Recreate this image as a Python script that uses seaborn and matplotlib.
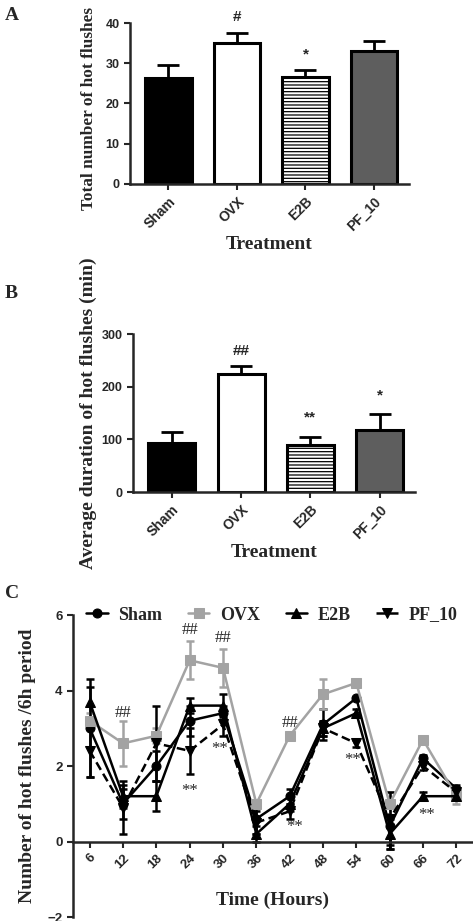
import matplotlib
matplotlib.use('Agg')
import matplotlib.pyplot as plt
import seaborn as sns
import pandas as pd

# ---- data ----
groups = ['Sham', 'OVX', 'E2B', 'PF_10']
total_mean = [26.3, 35.0, 26.5, 33.0]
total_err = [3.2, 2.5, 1.8, 2.6]
dur_mean = [93, 225, 90, 118]
dur_err = [21, 15, 15, 30]

times = [6, 12, 18, 24, 30, 36, 42, 48, 54, 60, 66, 72]
sham = [3.0, 1.0, 2.0, 3.2, 3.4, 0.6, 1.2, 3.1, 3.8, 0.4, 2.2, 1.4]
sham_err = [1.3, 0.4, 0.4, 0.4, 0.2, 0.4, 0.2, 0.4, 0.0, 0.6, 0.1, 0.1]
ovx = [3.2, 2.6, 2.8, 4.8, 4.6, 1.0, 2.8, 3.9, 4.2, 1.0, 2.7, 1.2]
ovx_err = [0.2, 0.6, 0.2, 0.5, 0.5, 0.1, 0.1, 0.4, 0.1, 0.3, 0.1, 0.2]
e2b = [3.7, 1.2, 1.2, 3.6, 3.6, 0.2, 1.0, 3.0, 3.4, 0.2, 1.2, 1.2]
e2b_err = [0.4, 0.3, 0.4, 0.2, 0.3, 0.2, 0.2, 0.2, 0.1, 0.4, 0.1, 0.1]
pf10 = [2.4, 0.9, 2.6, 2.4, 3.1, 0.5, 0.8, 3.0, 2.6, 0.6, 2.0, 1.3]
pf10_err = [0.7, 0.7, 1.0, 0.6, 0.3, 0.3, 0.2, 0.2, 0.1, 0.7, 0.1, 0.1]

sns.set_style('ticks')
plt.rcParams['font.family'] = ['Liberation Serif', 'DejaVu Serif']
plt.rcParams['hatch.linewidth'] = 0.9
plt.rcParams['hatch.color'] = 'black'

SANS = ['Liberation Sans', 'DejaVu Sans']
SERIF = ['Liberation Serif', 'DejaVu Serif']
W, H = 473, 921

fig = plt.figure(figsize=(4.73, 9.21), dpi=100)


def px_axes(l, t, r, b):
    return fig.add_axes([l / W, 1 - b / H, (r - l) / W, (b - t) / H])


def style_axes(ax):
    sns.despine(ax=ax)
    for s in ['left', 'bottom']:
        ax.spines[s].set_linewidth(1.8)
    ax.tick_params(width=1.5, length=4, direction='out')
    for lab in ax.get_yticklabels() + ax.get_xticklabels():
        lab.set_family(SANS)
        lab.set_weight('bold')


def bar_panel(ax, means, errs, ylabel, ymax, yticks, label_x, label_y, label_size):
    df = pd.DataFrame({'Treatment': groups, 'value': means})
    sns.barplot(data=df, x='Treatment', y='value', hue='Treatment', legend=False,
                palette=['black', 'white', 'white', '#5e5e5e'], width=0.68,
                edgecolor='black', linewidth=2.2, ax=ax)
    ax.patches[2].set_hatch('-----')
    ax.errorbar(range(4), means, yerr=[[0] * 4, errs], fmt='none', ecolor='black',
                elinewidth=2, capsize=8, capthick=2, zorder=1)
    ax.set_ylim(0, ymax)
    ax.set_yticks(yticks)
    ax.set_xlim(-0.56, 3.51)
    ax.set_xlabel('Treatment', fontsize=14, weight='bold', family=SERIF, labelpad=2)
    ax.set_ylabel(ylabel, fontsize=label_size, weight='bold', family=SERIF)
    ax.yaxis.set_label_coords(label_x, label_y)
    ax.tick_params(axis='y', labelsize=9)
    ax.tick_params(axis='x', labelsize=10)
    plt.setp(ax.get_xticklabels(), rotation=45, ha='right', rotation_mode='anchor')
    style_axes(ax)


# ---- A ----
axA = px_axes(130, 23, 409, 184)
bar_panel(axA, total_mean, total_err, 'Total number of hot flushes', 40,
          [0, 10, 20, 30, 40], -0.118, 0.47, 12.4)
axA.text(1, 41.5, '#', ha='center', va='center', fontsize=11, weight='bold', family=SANS)
axA.text(2, 32.3, '*', ha='center', va='center', fontsize=11, weight='bold', family=SANS)

# ---- B ----
axB = px_axes(133, 334, 415, 492)
bar_panel(axB, dur_mean, dur_err, 'Average duration of hot flushes (min)', 300,
          [0, 100, 200, 300], -0.128, 0.5, 14)
axB.text(1, 268, '##', ha='center', va='center', fontsize=11, weight='bold', family=SANS)
axB.text(2, 142, '**', ha='center', va='center', fontsize=11, weight='bold', family=SANS)
axB.text(3, 184, '*', ha='center', va='center', fontsize=11, weight='bold', family=SANS)

# ---- C ----
axC = px_axes(73, 615, 473, 917)
series = {'Sham': (sham, sham_err), 'OVX': (ovx, ovx_err),
          'E2B': (e2b, e2b_err), 'PF_10': (pf10, pf10_err)}
rows = []
for g, (vals, _) in series.items():
    for t, v in zip(times, vals):
        rows.append({'time': t, 'value': v, 'group': g})
dfc = pd.DataFrame(rows)
colors = {'Sham': 'black', 'OVX': '#a3a3a3', 'E2B': 'black', 'PF_10': 'black'}
markers = {'Sham': 'o', 'OVX': 's', 'E2B': '^', 'PF_10': 'v'}
dashes = {'Sham': '', 'OVX': '', 'E2B': '', 'PF_10': (3.5, 1.8)}
for g, (vals, errs) in series.items():
    axC.errorbar(times, vals, yerr=errs, fmt='none', ecolor=colors[g],
                 elinewidth=1.8, capsize=3, capthick=1.8, zorder=2)
n_before = len(axC.lines)
sns.lineplot(data=dfc, x='time', y='value', hue='group', style='group',
             palette=colors, markers=markers, dashes=dashes, markersize=6.5,
             linewidth=1.8, ax=axC)
for ln in axC.lines[n_before:]:
    ln.set_markeredgecolor(ln.get_color())
old = axC.get_legend()
handles = old.legend_handles
labels = [t.get_text() for t in old.get_texts()]
old.remove()
for h in handles:
    h.set_markeredgecolor(h.get_color())
fig.legend(handles, labels, loc='center left', bbox_to_anchor=(86 / W, 1 - 615 / H),
           ncol=4, frameon=False, handlelength=1.2, handletextpad=0.6,
           columnspacing=1.4, borderpad=0, borderaxespad=0,
           prop={'family': SERIF, 'weight': 'bold', 'size': 13})

axC.set_xlim(3, 75)
axC.set_ylim(-2, 6)
axC.set_xticks(times)
axC.set_yticks([-2, 0, 2, 4, 6])
axC.spines['bottom'].set_position(('data', 0))
axC.set_xlabel('')
axC.set_ylabel('Number of hot flushes /6h period', fontsize=14, weight='bold', family=SERIF)
axC.yaxis.set_label_coords(-0.092, 0.5)
axC.tick_params(axis='both', labelsize=9.5)
plt.setp(axC.get_xticklabels(), rotation=45, ha='right', rotation_mode='anchor')
style_axes(axC)
fig.text(273 / W, 1 - 900 / H, 'Time (Hours)', ha='center', va='center',
         fontsize=14, weight='bold', family=SERIF)

for x, y in [(12, 3.4), (24, 5.6), (30, 5.38), (42, 3.13)]:
    axC.text(x, y, '##', ha='center', va='center', fontsize=12, family=SERIF)
for x, y in [(24, 1.35), (29.3, 2.45), (42.8, 0.38), (53.3, 2.17), (66.6, 0.7)]:
    axC.text(x, y, '**', ha='center', va='center', fontsize=12, family=SERIF)

# panel letters
for letter, y in [('A', 16), ('B', 293), ('C', 593)]:
    fig.text(5 / W, 1 - y / H, letter, ha='left', va='center', fontsize=14,
             weight='bold', family=SERIF)

fig.savefig('out.png', dpi=100)
